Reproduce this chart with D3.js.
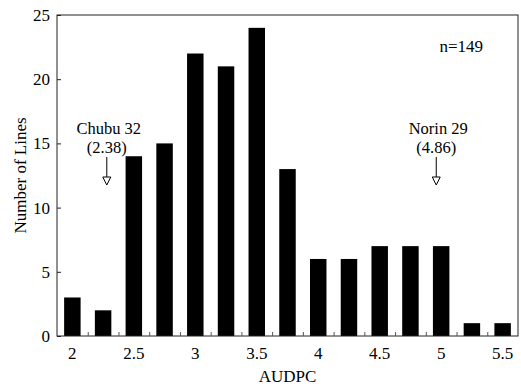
<!DOCTYPE html>
<html>
<head>
<meta charset="utf-8">
<script src="https://cdn.jsdelivr.net/npm/d3@7"></script>
<style>
  html, body { margin: 0; padding: 0; background: #fff; }
  svg { display: block; }
  text { font-family: 'Liberation Serif', 'Times New Roman', serif; fill: #000; }
</style>
</head>
<body>
<div id="chart"></div>
<script>
// AUDPC bins (bar centres) and number of lines in each
const binCenters = [2, 2.25, 2.5, 2.75, 3, 3.25, 3.5, 3.75, 4, 4.25, 4.5, 4.75, 5, 5.25, 5.5];
const lineCounts = [3, 2, 14, 15, 22, 21, 24, 13, 6, 6, 7, 7, 7, 1, 1];

const xTickValues = [2, 2.5, 3, 3.5, 4, 4.5, 5, 5.5];
const xMinorTicks = [2.125, 2.375, 2.625, 2.875, 3.125, 3.375, 3.625, 3.875, 4.125, 4.375, 4.625, 4.875, 5.125, 5.375];
const yTickValues = [0, 5, 10, 15, 20, 25];

// parent cultivars marked with arrows
const cultivarNames = ['Chubu 32', 'Norin 29'];
const cultivarScores = ['(2.38)', '(4.86)'];
const arrowPositions = [2.28, 4.96];

const width = 521;
const height = 387;
const margin = { top: 15, right: 3, bottom: 51, left: 57 };

const svg = d3
  .select('#chart')
  .append('svg')
  .attr('width', width)
  .attr('height', height);

const x = d3
  .scaleLinear()
  .domain([1.875, 5.625])
  .range([margin.left, width - margin.right]);

const y = d3
  .scaleLinear()
  .domain([0, 25])
  .range([height - margin.bottom, margin.top]);

const barHalf = 0.067;

// bars
svg
  .append('g')
  .selectAll('rect')
  .data(binCenters)
  .join('rect')
  .attr('x', (d) => x(d - barHalf))
  .attr('width', (d) => x(d + barHalf) - x(d - barHalf))
  .attr('y', (d, i) => y(lineCounts[i]))
  .attr('height', (d, i) => y(0) - y(lineCounts[i]))
  .attr('fill', '#000');

// frame
svg
  .append('rect')
  .attr('x', x.range()[0])
  .attr('y', y.range()[1])
  .attr('width', x.range()[1] - x.range()[0])
  .attr('height', y.range()[0] - y.range()[1])
  .attr('fill', 'none')
  .attr('stroke', '#222')
  .attr('stroke-width', 1);

// y axis: ticks point inward
const yAxis = svg
  .append('g')
  .attr('transform', `translate(${x.range()[0]},0)`)
  .call(d3.axisRight(y).tickValues(yTickValues).tickSize(4).tickFormat(''));
yAxis.select('.domain').remove();
yAxis.selectAll('line').attr('stroke', '#222');

svg
  .append('g')
  .selectAll('text')
  .data(yTickValues)
  .join('text')
  .attr('x', x.range()[0] - 7)
  .attr('y', (d) => y(d))
  .attr('dy', '0.35em')
  .attr('text-anchor', 'end')
  .style('font-size', '17px')
  .text((d) => d);

// x axis: minor ticks point up between bars
const xAxis = svg
  .append('g')
  .attr('transform', `translate(0,${y.range()[0]})`)
  .call(d3.axisTop(x).tickValues(xMinorTicks).tickSize(4).tickFormat(''));
xAxis.select('.domain').remove();
xAxis.selectAll('line').attr('stroke', '#555');

svg
  .append('g')
  .selectAll('text')
  .data(xTickValues)
  .join('text')
  .attr('x', (d) => x(d))
  .attr('y', y.range()[0] + 23)
  .attr('text-anchor', 'middle')
  .style('font-size', '17px')
  .text((d) => d);

// axis titles
svg
  .append('text')
  .attr('x', (x.range()[0] + x.range()[1]) / 2)
  .attr('y', height - 5)
  .attr('text-anchor', 'middle')
  .style('font-size', '17px')
  .text('AUDPC');

svg
  .append('text')
  .attr('transform', `translate(26,${(y.range()[0] + y.range()[1]) / 2}) rotate(-90)`)
  .attr('text-anchor', 'middle')
  .style('font-size', '17px')
  .text('Number of Lines');

// sample size
svg
  .append('text')
  .attr('x', x.range()[1] - 35)
  .attr('y', 52)
  .attr('text-anchor', 'end')
  .style('font-size', '17px')
  .text('n=149');

// cultivar arrows
arrowPositions.forEach((pos, i) => {
  const g = svg.append('g');
  const cx = x(pos);

  g.append('text')
    .attr('x', cx + 2)
    .attr('y', 134)
    .attr('text-anchor', 'middle')
    .style('font-size', '16.5px')
    .text(cultivarNames[i]);

  g.append('text')
    .attr('x', cx)
    .attr('y', 153)
    .attr('text-anchor', 'middle')
    .style('font-size', '16.5px')
    .text(cultivarScores[i]);

  g.append('line')
    .attr('x1', cx)
    .attr('x2', cx)
    .attr('y1', 157)
    .attr('y2', 177)
    .attr('stroke', '#000')
    .attr('stroke-width', 1);

  g.append('path')
    .attr('d', `M${cx - 4},177 L${cx + 4},177 L${cx},185 Z`)
    .attr('fill', '#fff')
    .attr('stroke', '#000')
    .attr('stroke-width', 1);
});
</script>
</body>
</html>
